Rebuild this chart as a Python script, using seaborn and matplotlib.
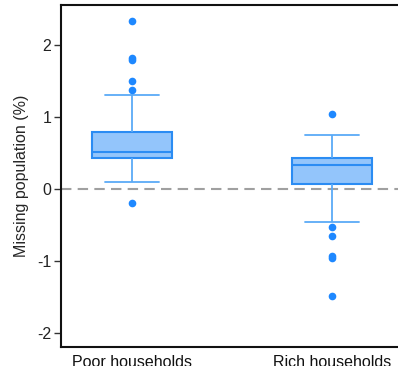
import numpy as np
import pandas as pd
import matplotlib
matplotlib.use("Agg")
import matplotlib.pyplot as plt
import seaborn as sns

# Summary statistics for each household group (missing population, %)
groups = ["Poor households", "Rich households"]
whisker_low = [0.10, -0.45]
q1 = [0.43, 0.07]
median = [0.52, 0.34]
q3 = [0.80, 0.43]
whisker_high = [1.31, 0.755]
outliers_low = [[-0.185], [-0.52, -0.65, -0.93, -0.96, -1.48]]
outliers_high = [[1.385, 1.51, 1.80, 1.83, 2.34], [1.046]]


def sample_from_stats(lo, a, m, b, hi, out_lo, out_hi):
    """Build a sample whose quartiles, whiskers and fliers equal the given stats."""
    k = max(len(out_lo), len(out_hi)) + 1
    vals = (list(out_lo) + [lo] * (k - len(out_lo))
            + [a] * k + [m] + [b] * k
            + [hi] * (k - len(out_hi)) + list(out_hi))
    return vals


rows = []
for i, g in enumerate(groups):
    for v in sample_from_stats(whisker_low[i], q1[i], median[i], q3[i],
                               whisker_high[i], outliers_low[i], outliers_high[i]):
        rows.append({"group": g, "value": v})
df = pd.DataFrame(rows)

sns.set_theme(style="white")
plt.rcParams["font.family"] = ["Liberation Sans", "DejaVu Sans"]

fig = plt.figure(figsize=(3.98, 3.66), dpi=100)
ax = fig.add_axes([61 / 398, 19 / 366, 337 / 398, 342 / 366])

edge = "#2b8cf3"
whisk = "#5aaaf7"
fill = "#93c5fb"
dot = "#1e88ff"
box_width = 0.4

sns.boxplot(
    data=df, x="group", y="value", order=groups, ax=ax,
    width=box_width, whis=1.5,
    boxprops=dict(facecolor=fill, edgecolor=edge, linewidth=1.5),
    medianprops=dict(color=edge, linewidth=1.5),
    whiskerprops=dict(color=whisk, linewidth=1.3),
    capprops=dict(color=whisk, linewidth=1.3),
    flierprops=dict(marker="o", markerfacecolor=dot, markeredgecolor="none",
                    markersize=5.5),
)

# widen the whisker caps (short horizontal segments, narrower than the box)
cap_half = 0.135
for line in ax.lines:
    xd = np.asarray(line.get_xdata(), float)
    yd = np.asarray(line.get_ydata(), float)
    if len(xd) == 2 and yd[0] == yd[1] and 0 < abs(xd[1] - xd[0]) < box_width * 0.9:
        c = xd.mean()
        line.set_xdata([c - cap_half, c + cap_half])
        line.set_color(whisk)

ax.axhline(0, color="#a0a0a0", linestyle=(0, (5, 3)), linewidth=1.5, zorder=0.5)

ax.set_xlim(-0.355, 1.33)
ax.set_ylim(-2.19, 2.56)
ax.set_yticks([-2, -1, 0, 1, 2])
ax.set_yticklabels(["-2", "-1", "0", "1", "2"])

ax.set_xlabel("")
ax.set_ylabel("Missing population (%)", fontsize=11.5, labelpad=6)
ax.tick_params(axis="y", left=True, length=5, width=1, color="#333333",
               labelsize=11.5, pad=2, labelcolor="#222222")
ax.tick_params(axis="x", bottom=False, labelsize=11.5, pad=0, labelcolor="#111111")

for side in ["left", "bottom", "top"]:
    ax.spines[side].set_visible(True)
    ax.spines[side].set_color("#111111")
    ax.spines[side].set_linewidth(1.5)
ax.spines["right"].set_visible(False)

fig.savefig("out.png", dpi=100)
